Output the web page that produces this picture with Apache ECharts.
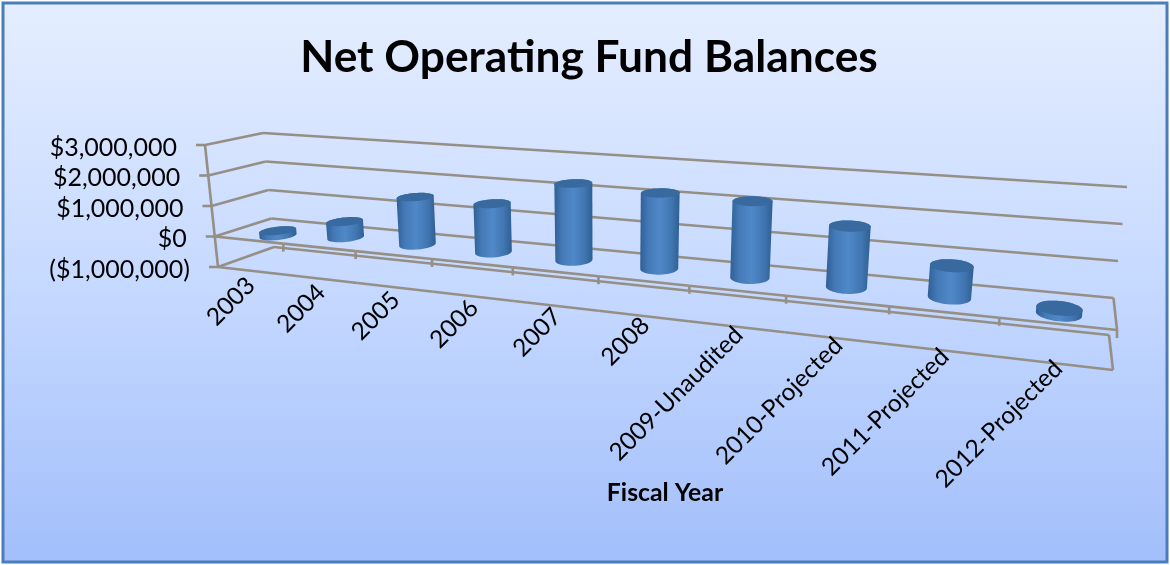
<!DOCTYPE html>
<html><head><meta charset="utf-8">
<style>html,body{margin:0;padding:0;background:#fff}#c{width:1170px;height:565px}</style>
<script src="https://cdn.jsdelivr.net/npm/echarts@6/dist/echarts.min.js"></script>
</head><body><div id="c"></div>
<script>
const categories = ['2003','2004','2005','2006','2007','2008','2009-Unaudited','2010-Projected','2011-Projected','2012-Projected'];
const balances = [-170000,520000,1520000,1510000,2330000,2240000,2200000,1710000,860000,-150000];
const yTicks = [3000000,2000000,1000000,0,-1000000];
const yTickLabels = ['$3,000,000','$2,000,000','$1,000,000','$0','($1,000,000)'];
const chartTitle = 'Net Operating Fund Balances';
const xTitle = 'Fiscal Year';

const FONT = 'Lato, "Open Sans", sans-serif';
const LINE = '#958f86';
// perspective box: [front/back][left/right][bottom/top] screen corners
const C = {
  flb:[218,267], flt:[205,145], frb:[1113,370], frt:[1129,210],
  blb:[274,247], blt:[263,133], brb:[1109,335], brt:[1127,187]
};
const GW = 1000, GH = 400, PERSP = 0.74;
const lerp = (a,b,k)=>[a[0]+(b[0]-a[0])*k, a[1]+(b[1]-a[1])*k];
function project(s,u,d){
  const t = PERSP*s/((1-s)+PERSP*s);
  const fb = lerp(C.flb,C.frb,t), ft = lerp(C.flt,C.frt,t);
  const bb = lerp(C.blb,C.brb,t), bt = lerp(C.blt,C.brt,t);
  return lerp(lerp(fb,ft,u), lerp(bb,bt,u), d);
}
const norm = (p)=>[p[0]/GW, 1-p[1]/GH];
const line = (a,b,w)=>({type:'line',silent:true,shape:{x1:a[0],y1:a[1],x2:b[0],y2:b[1]},style:{stroke:LINE,lineWidth:w||2.6}});
function hull(pts){
  pts = pts.slice().sort((a,b)=>a[0]-b[0]||a[1]-b[1]);
  const cr=(o,a,b)=>(a[0]-o[0])*(b[1]-o[1])-(a[1]-o[1])*(b[0]-o[0]);
  const lo=[],up=[];
  for(const p of pts){while(lo.length>1&&cr(lo[lo.length-2],lo[lo.length-1],p)<=0)lo.pop();lo.push(p);}
  for(const p of pts.slice().reverse()){while(up.length>1&&cr(up[up.length-2],up[up.length-1],p)<=0)up.pop();up.push(p);}
  return lo.slice(0,-1).concat(up.slice(0,-1));
}
function circle(s,u){
  const R_S=0.0203,R_D=0.235,out=[];
  for(let k=0;k<48;k++){
    const a=k/48*2*Math.PI,q=project(s+R_S*Math.cos(a),u,0.5+R_D*Math.sin(a));
    out.push([q[0]+2,q[1]]);
  }
  return out;
}
const chart = echarts.init(document.getElementById('c'),null,{renderer:'canvas'});
chart.setOption({
  animation:false,
  graphic:[{type:'rect',z:-10,silent:true,shape:{x:3,y:3,width:1164,height:559},
    style:{stroke:'#4a7ebb',lineWidth:3,
      fill:new echarts.graphic.LinearGradient(0,0,0,1,[{offset:0,color:'#e5eeff'},{offset:0.5,color:'#c6d9ff'},{offset:1,color:'#a2bffb'}])}}],
  title:[
    {text:chartTitle,left:584,top:31,textAlign:'center',textStyle:{fontFamily:FONT,fontSize:44.3,fontWeight:'bold',color:'#000'}},
    {text:xTitle,left:660,top:476,textAlign:'center',textStyle:{fontFamily:FONT,fontSize:24.8,fontWeight:'bold',color:'#000'}}
  ],
  grid:{left:0,top:0,width:GW,height:GH},
  xAxis:{type:'category',data:categories,show:false},
  yAxis:{type:'value',min:-1000000,max:3000000,interval:1000000,show:false},
  series:[
    {type:'custom',coordinateSystem:'cartesian2d',silent:true,z:2,
     data:yTicks.map((v,i)=>[0,v,i]),encode:{x:0,y:1},
     renderItem(p,api){
       const u=norm(api.coord([0,api.value(1)]))[1], i=api.value(2);
       const f=project(0,u,0), b=project(0,u,1), e=project(1,u,1);
       const ch=[line(f,b),line(b,e),line([f[0]-9,f[1]],f),
         {type:'text',silent:true,x:f[0]-28,y:f[1]+2.5,style:{text:yTickLabels[i],align:'right',verticalAlign:'middle',font:'25px '+FONT,fill:'#000'}}];
       return {type:'group',children:ch};
     }},
    {type:'custom',coordinateSystem:'cartesian2d',silent:true,z:2,
     data:categories.map((c,i)=>[i,0]),encode:{x:0,y:1},
     renderItem(p,api){
       const i=api.value(0),c=api.coord([i,0]),w=api.size([1,0])[0];
       const n=norm(c),u0=n[1],u1=norm(api.coord([i,-1000000]))[1],u3=norm(api.coord([i,3000000]))[1];
       const ch=[];
       const sL=(c[0]-w/2)/GW,sR=(c[0]+w/2)/GW;
       const tk=project(sR,u0,0);
       ch.push(line(tk,[tk[0],tk[1]+8]));
       const a=project(n[0],u1,0);
       ch.push(line(project(sL,u0,0),tk));
       ch.push(line(project(sL,u1,0),project(sR,u1,0)));
       if(i===0) ch.push(line(project(0,u3,0),project(0,u1,0)));
       if(i===categories.length-1){
         ch.push(line(project(1,u0,1),project(1,u0,0)));
         ch.push(line(project(1,u1,1),project(1,u1,0)));
       }
       ch.push({type:'text',silent:true,x:a[0]-1+6*n[0],y:a[1]+11-10*n[0],rotation:Math.PI/4,
         style:{text:categories[i],align:'right',verticalAlign:'middle',font:'24.4px '+FONT,fill:'#000'}});
       return {type:'group',children:ch};
     }},
    {type:'custom',coordinateSystem:'cartesian2d',silent:true,z:3,
     data:balances.map((v,i)=>[i,v]),encode:{x:0,y:1},
     renderItem(p,api){
       const i=api.value(0),v=api.value(1);
       const n=norm(api.coord([i,v])),z=norm(api.coord([i,0]));
       const s=n[0],hi=Math.max(n[1],z[1]),lo=Math.min(n[1],z[1]);
       const top=circle(s,hi),bot=circle(s,lo);
       const body=hull(top.concat(bot));
       return {type:'group',children:[
         {type:'polygon',silent:true,shape:{points:body},style:{fill:new echarts.graphic.LinearGradient(0,0,1,0,[
           {offset:0,color:'#2f5f95'},{offset:0.2,color:'#4479b6'},{offset:0.5,color:'#5088c8'},{offset:0.8,color:'#4075b0'},{offset:1,color:'#2f5f92'}])}},
         {type:'polygon',silent:true,shape:{points:top},style:{fill:'#38699f'}}
       ]};
     }}
  ]
});
</script></body></html>
